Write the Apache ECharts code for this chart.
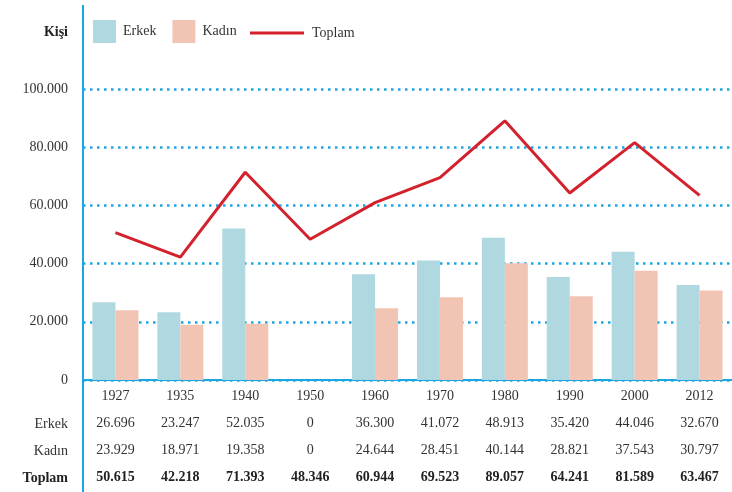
<!DOCTYPE html>
<html>
<head>
  <meta charset="UTF-8">
  <title>Kişi</title>
  <script src="https://cdn.jsdelivr.net/npm/echarts@6/dist/echarts.min.js"></script>
</head>
<body style="margin:0">
  <div id="main" style="width: 732px; height: 492px"></div>
  <script>
    // veriler
    const years = ['1927', '1935', '1940', '1950', '1960', '1970', '1980', '1990', '2000', '2012'];
    const erkek = [26696, 23247, 52035, 0, 36300, 41072, 48913, 35420, 44046, 32670];
    const kadin = [23929, 18971, 19358, 0, 24644, 28451, 40144, 28821, 37543, 30797];
    const toplam = [50615, 42218, 71393, 48346, 60944, 69523, 89057, 64241, 81589, 63467];

    const blue = '#1ba6e2';
    const font = 'Liberation Serif';
    const txt = '#333';

    // 26696 -> 26.696
    function fmt(v) {
      return String(v).replace(/\B(?=(\d{3})+(?!\d))/g, '.');
    }

    const chart = echarts.init(document.getElementById('main'));
    const option = {
      textStyle: { fontFamily: font, color: txt },
      animation: false,
      legend: [
        {
          data: ['Erkek', 'Kadın'],
          left: 93, top: 20, padding: 0,
          itemWidth: 23, itemHeight: 23, itemGap: 16,
          icon: 'rect',
          textStyle: { fontFamily: font, fontSize: 14, color: txt, padding: [0, 0, 0, 2] }
        },
        {
          data: ['Toplam'],
          left: 250, top: 26, padding: 0,
          itemWidth: 54, itemHeight: 3,
          icon: 'rect',
          textStyle: { fontFamily: font, fontSize: 14, color: txt, padding: [0, 0, 0, 3] }
        }
      ],
      grid: { left: 83, top: 89, width: 661, bottom: 112, containLabel: false },
      xAxis: {
        type: 'category',
        data: years,
        axisLine: { lineStyle: { color: blue, width: 2 } },
        axisTick: { show: false },
        axisLabel: {
          margin: 3,
          interval: 0,
          formatter: function (val, i) {
            return '{y|' + val + '}\n{n|' + fmt(erkek[i]) + '}\n{n|' + fmt(kadin[i]) + '}\n{b|' + fmt(toplam[i]) + '}';
          },
          rich: {
            y: { fontFamily: font, fontSize: 14, color: txt, lineHeight: 27 },
            n: { fontFamily: font, fontSize: 14, color: txt, lineHeight: 27 },
            b: { fontFamily: font, fontSize: 14, color: '#222', fontWeight: 'bold', lineHeight: 27 }
          }
        }
      },
      yAxis: {
        type: 'value',
        min: 0, max: 100000, interval: 20000,
        axisLine: { show: false },
        axisTick: { show: false },
        axisLabel: {
          margin: 15,
          fontFamily: font, fontSize: 14, color: txt,
          formatter: v => fmt(v)
        },
        splitLine: { lineStyle: { color: blue, type: [2.5, 4.5], width: 2.5 } }
      },
      graphic: [
        { type: 'line', shape: { x1: 83, y1: 5, x2: 83, y2: 492 }, style: { stroke: blue, lineWidth: 2 }, z: 10 },
        { type: 'text', x: 68, y: 32, style: { text: 'Kişi', font: 'bold 14px "Liberation Serif"', fill: '#222', align: 'right', verticalAlign: 'middle' } },
        { type: 'text', x: 68, y: 424, style: { text: 'Erkek', font: '14px "Liberation Serif"', fill: txt, align: 'right', verticalAlign: 'middle' } },
        { type: 'text', x: 68, y: 451, style: { text: 'Kadın', font: '14px "Liberation Serif"', fill: txt, align: 'right', verticalAlign: 'middle' } },
        { type: 'text', x: 68, y: 478, style: { text: 'Toplam', font: 'bold 14px "Liberation Serif"', fill: '#222', align: 'right', verticalAlign: 'middle' } }
      ],
      series: [
        {
          name: 'Erkek', type: 'bar', data: erkek,
          barWidth: 23, barGap: '0%',
          itemStyle: { color: '#afd8e1' }
        },
        {
          name: 'Kadın', type: 'bar', data: kadin,
          barWidth: 23,
          itemStyle: { color: '#f2c4b4' }
        },
        {
          name: 'Toplam', type: 'line', data: toplam,
          symbol: 'none',
          lineStyle: { color: '#d3222d', width: 3 },
          itemStyle: { color: '#d3222d' },
          z: 5
        }
      ]
    };
    chart.setOption(option);
  </script>
</body>
</html>
